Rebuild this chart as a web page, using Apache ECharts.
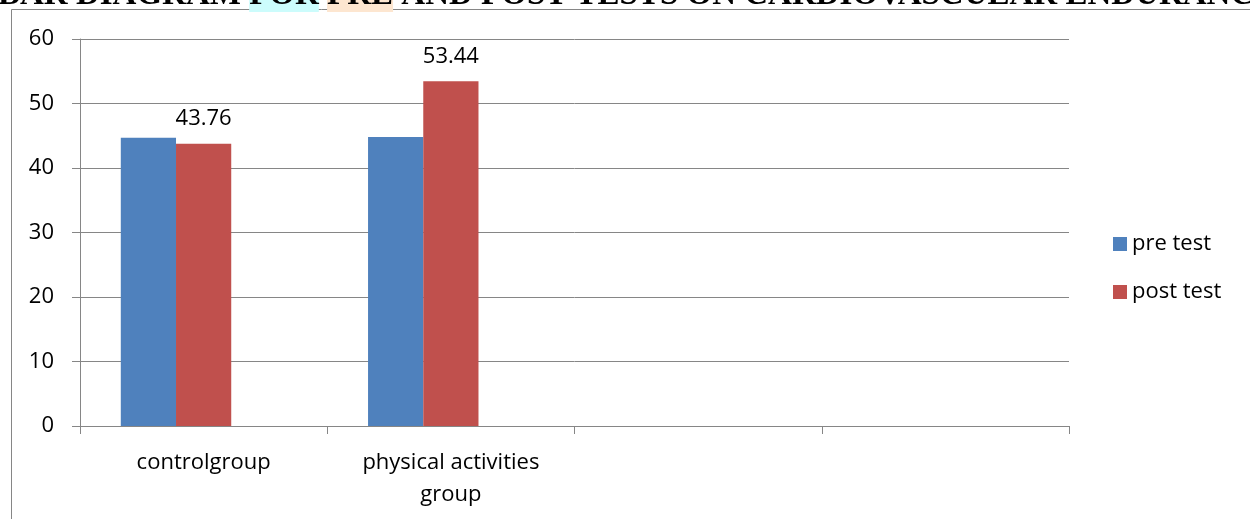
<!DOCTYPE html>
<html>
<head>
<meta charset="utf-8">
<script src="https://cdn.jsdelivr.net/npm/echarts@6/dist/echarts.min.js"></script>
<style>
  html, body { margin: 0; padding: 0; background: #fff; }
  #main { width: 1250px; height: 519px; }
</style>
</head>
<body>
<div id="main"></div>
<script>
// data
var groups = ['controlgroup', 'physical activities\ngroup', '', ''];
var preTest = [44.7, 44.8, null, null];
var postTest = [43.76, 53.44, null, null];
var yTicks = [0, 10, 20, 30, 40, 50, 60];

var myChart = echarts.init(document.getElementById('main'));
var gridColor = '#868686';
var font = 'Open Sans';

var option = {
    backgroundColor: '#fff',
    animation: false,
    title: {
        text: '{a|BAR DIAGRAM }{b|FOR}{a| }{c|PRE}{a| AND POST TESTS ON CARDIOVASCULAR ENDURANCE}',
        left: -2,
        top: -21,
        padding: 0,
        textStyle: {
            rich: {
                a: { fontFamily: 'Liberation Serif', fontWeight: 'bold', fontSize: 33, color: '#000' },
                b: { fontFamily: 'Liberation Serif', fontWeight: 'bold', fontSize: 33, color: '#000', backgroundColor: '#ccfcfc' },
                c: { fontFamily: 'Liberation Serif', fontWeight: 'bold', fontSize: 33, color: '#000', backgroundColor: '#fde6d0' }
            }
        }
    },
    graphic: [{
        type: 'rect',
        shape: { x: 11.5, y: 9.5, width: 1400, height: 700 },
        style: { fill: 'none', stroke: gridColor, lineWidth: 1 },
        silent: true,
        z: -1
    }],
    legend: {
        data: ['pre test', 'post test'],
        orient: 'vertical',
        left: 1113,
        top: 233,
        padding: 0,
        itemWidth: 14,
        itemHeight: 14,
        itemGap: 26,
        icon: 'rect',
        textStyle: { fontFamily: font, fontSize: 22, color: '#000' }
    },
    grid: { left: 80, right: 181, top: 39, bottom: 93 },
    xAxis: {
        type: 'category',
        data: groups,
        axisLine: { lineStyle: { color: gridColor } },
        axisTick: { show: true, length: 8, alignWithLabel: false, lineStyle: { color: gridColor } },
        axisLabel: { fontFamily: font, fontSize: 22, color: '#000', margin: 21, lineHeight: 32, interval: 0 }
    },
    yAxis: {
        type: 'value',
        min: yTicks[0],
        max: yTicks[yTicks.length - 1],
        interval: 10,
        axisLine: { show: true, lineStyle: { color: gridColor } },
        axisTick: { show: true, length: 8, lineStyle: { color: gridColor } },
        splitLine: { lineStyle: { color: gridColor } },
        axisLabel: { fontFamily: font, fontSize: 22, color: '#000', margin: 26 }
    },
    series: [{
        name: 'pre test',
        type: 'bar',
        data: preTest,
        barGap: '0%',
        barCategoryGap: '33%',
        itemStyle: { color: '#4F81BD' }
    }, {
        name: 'post test',
        type: 'bar',
        data: postTest,
        itemStyle: { color: '#C0504D' },
        label: {
            show: true,
            position: 'top',
            distance: 14,
            fontFamily: font,
            fontSize: 22,
            color: '#000'
        }
    }, {
        // empty third series, as in the source spreadsheet
        name: 'series3',
        type: 'bar',
        data: [null, null, null, null],
        itemStyle: { color: '#9BBB59' }
    }]
};

myChart.setOption(option);
</script>
</body>
</html>
